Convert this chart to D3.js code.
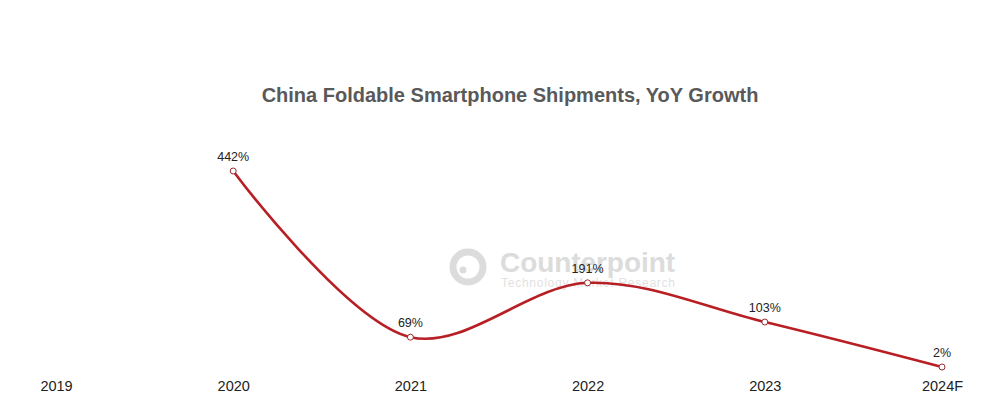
<!DOCTYPE html>
<html><head><meta charset="utf-8">
<script src="https://cdn.jsdelivr.net/npm/d3@7"></script>
<style>body{margin:0;background:#fff}svg{display:block}</style>
</head><body>
<svg id="c" width="993" height="400"></svg>
<script>
const categories = ["2019","2020","2021","2022","2023","2024F"];
const growthYears = ["2020","2021","2022","2023","2024F"];
const growthValues = [442, 69, 191, 103, 2];
const title = "China Foldable Smartphone Shipments, YoY Growth";

const svg = d3.select("#c");
const W = 993, H = 400;
svg.append("rect").attr("width",W).attr("height",H).attr("fill","#fff");

const x = d3.scalePoint().domain(categories).range([56, 942]);
const y = d3.scaleLinear().domain([0, 442]).range([367.9, 171]);

svg.append("text").attr("x",510).attr("y",102).attr("text-anchor","middle")
  .attr("font-family","Liberation Sans, Arial, sans-serif").attr("font-weight","bold")
  .attr("font-size",20).attr("fill","#595959").text(title);

// watermark
const wm = svg.append("g");
wm.append("circle").attr("cx",468).attr("cy",267).attr("r",15).attr("fill","none").attr("stroke","#dcdcdc").attr("stroke-width",7);
wm.append("circle").attr("cx",463).attr("cy",270).attr("r",3.5).attr("fill","#dcdcdc");
wm.append("text").attr("x",500).attr("y",272).attr("font-family","Liberation Sans, Arial, sans-serif")
  .attr("font-weight","bold").attr("font-size",28).attr("fill","#dcdcdc").attr("textLength",175).text("Counterpoint");
wm.append("text").attr("x",501).attr("y",287).attr("font-family","Liberation Sans, Arial, sans-serif")
  .attr("font-size",12).attr("fill","#e2e2e2").attr("textLength",174).text("Technology Market Research");

const pts = growthYears.map((c,i)=>({c, v: growthValues[i]}));
const line = d3.line().x(d=>x(d.c)).y(d=>y(d.v)).curve(d3.curveCatmullRom.alpha(0.5));
svg.append("path").datum(pts).attr("d",line).attr("fill","none")
  .attr("stroke","#b81f25").attr("stroke-width",2.6);

svg.selectAll("circle.pt").data(pts).enter().append("circle").attr("class","pt")
  .attr("cx",d=>x(d.c)).attr("cy",d=>y(d.v)).attr("r",3)
  .attr("fill","#fff").attr("stroke","#9a2a2e").attr("stroke-width",1);

svg.selectAll("text.lbl").data(pts).enter().append("text").attr("class","lbl")
  .attr("x",d=>x(d.c)).attr("y",d=>y(d.v)-10).attr("text-anchor","middle")
  .attr("font-family","Liberation Sans, Arial, sans-serif").attr("font-size",12.5)
  .attr("fill","#222").text(d=>d.v+"%");

const xa = d3.axisBottom(x).tickSize(0).tickPadding(0);
const g = svg.append("g").attr("transform","translate(0,378)").call(xa);
g.select(".domain").remove();
g.selectAll("text").attr("font-family","Liberation Sans, Arial, sans-serif").attr("font-size",14.5).attr("fill","#222").attr("dy","0.9em");
</script>
</body></html>
